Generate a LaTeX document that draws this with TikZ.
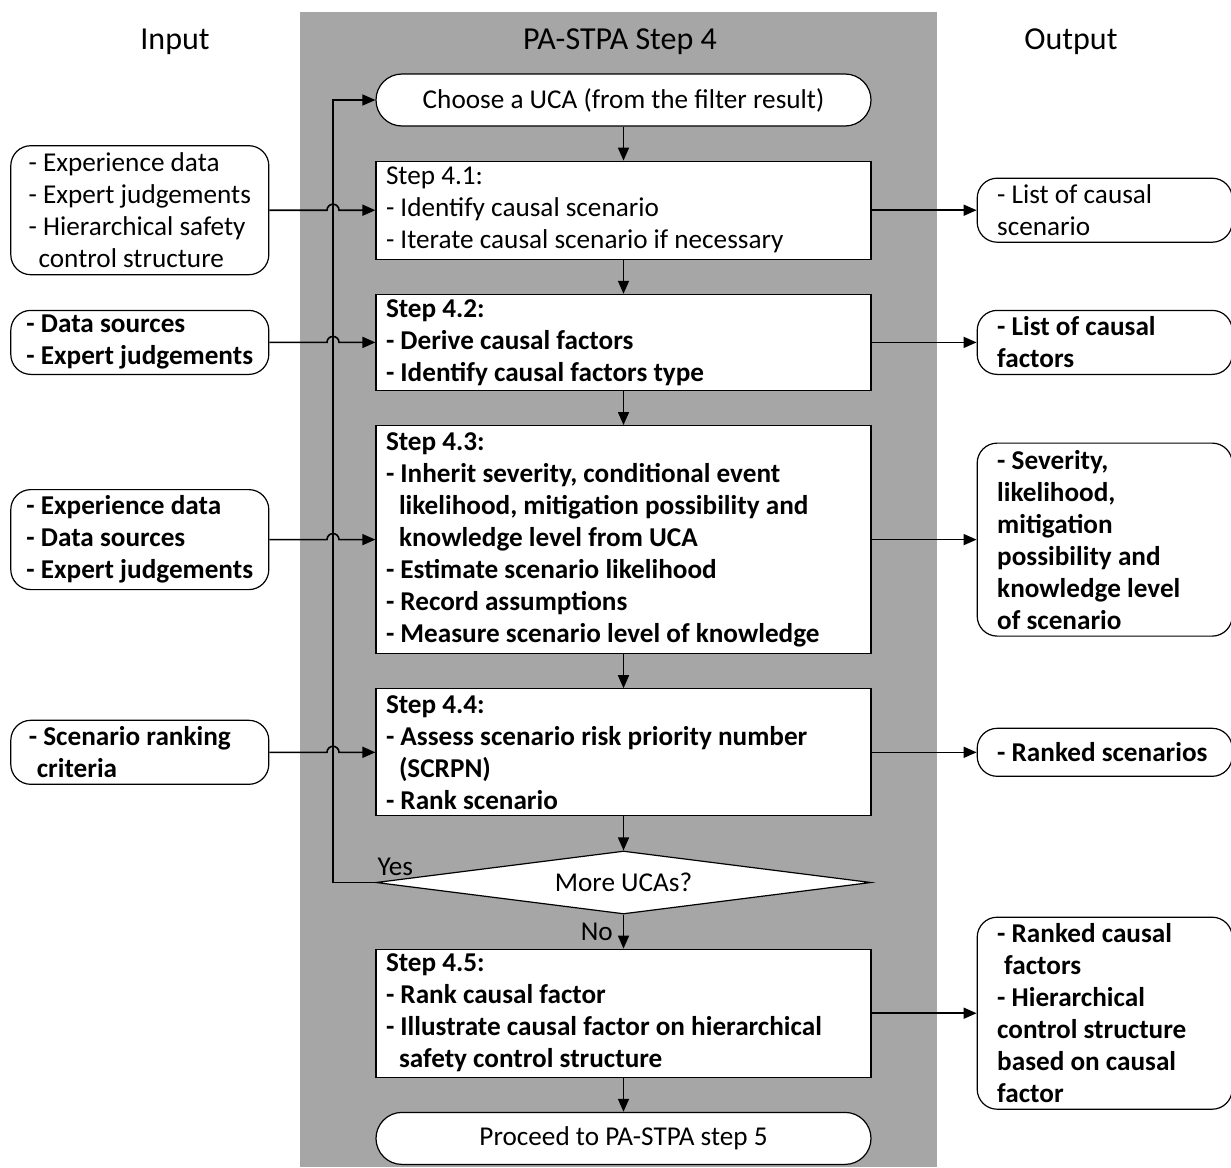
\documentclass[tikz,border=0pt]{standalone}
\usepackage{fontspec}
\setmainfont{Carlito}
\usetikzlibrary{arrows.meta,positioning,shapes.geometric,calc,backgrounds}
\definecolor{BandGray}{HTML}{A6A6A6}
\newcommand{\contline}{\hspace*{13pt}}
\tikzset{
  basefont/.style={font=\fontsize{27.2}{32}\selectfont},
  boldfont/.style={font=\fontsize{27.2}{32}\selectfont\bfseries},
  terminal/.style={draw,fill=white,line width=1.2pt,rounded corners=26pt,minimum width=495pt,minimum height=52pt,basefont},
  stepbox/.style={draw,fill=white,line width=1.2pt,text width=475pt,inner xsep=10pt,inner ysep=2pt,align=flush left,basefont},
  decision/.style={draw,fill=white,line width=1.2pt,diamond,aspect=8,minimum width=495pt,minimum height=63pt,inner sep=0pt,basefont},
  inputbox/.style={draw,fill=white,line width=1.2pt,rounded corners=20pt,minimum width=258pt,align=flush left,basefont},
  outputbox/.style={draw,fill=white,line width=1.2pt,rounded corners=20pt,text width=215pt,inner xsep=20pt,align=flush left,basefont},
  header/.style={font=\fontsize{32}{38}\selectfont},
  flow/.style={-{Triangle[length=13pt,width=11pt]},line width=1.6pt},
  lbl/.style={basefont,inner sep=2pt}
}

\begin{document}
\begin{tikzpicture}[x=1pt,y=-1pt,node distance=34pt and 105pt]
\fill[BandGray] (300,12) rectangle (937,1167);
\useasboundingbox (0,0) rectangle (1231,1167);
\node[header] (hin) at (175,42) {Input};
\node[header] (hstep) at (620,42) {PA-STPA Step 4};
\node[header] (hout) at (1071,42) {Output};
\node[terminal] (choose) at (623.5,100) {Choose a UCA (from the filter result)};
\node[stepbox,minimum height=98pt,below=of choose] (s41) {Step 4.1:\\- Identify causal scenario\\- Iterate causal scenario if necessary};
\node[stepbox,boldfont,minimum height=96pt,below=of s41] (s42) {Step 4.2:\\- Derive causal factors\\- Identify causal factors type};
\node[stepbox,boldfont,minimum height=228pt,below=of s42] (s43) {Step 4.3:\\- Inherit severity, conditional event\\\contline likelihood, mitigation possibility and\\\contline knowledge level from UCA\\- Estimate scenario likelihood\\- Record assumptions\\- Measure scenario level of knowledge};
\node[stepbox,boldfont,minimum height=127pt,below=of s43] (s44) {Step 4.4:\\- Assess scenario risk priority number\\\contline (SCRPN)\\- Rank scenario};
\node[decision,below=of s44] (more) {More UCAs?};
\node[stepbox,boldfont,minimum height=128pt,below=of more] (s45) {Step 4.5:\\- Rank causal factor\\- Illustrate causal factor on hierarchical\\\contline safety control structure};
\node[terminal,below=of s45] (proceed) {Proceed to PA-STPA step 5};
\node[inputbox,minimum height=129pt,left=106pt of s41] (in1) {- Experience data\\- Expert judgements\\- Hierarchical safety\\\hspace*{10pt}control structure};
\node[inputbox,boldfont,minimum height=64pt,left=106pt of s42] (in2) {- Data sources\\- Expert judgements};
\node[inputbox,boldfont,minimum height=100pt,left=106pt of s43] (in3) {- Experience data\\- Data sources\\- Expert judgements};
\node[inputbox,boldfont,minimum height=64pt,left=106pt of s44] (in4) {- Scenario ranking\hspace*{20pt}\\\hspace*{8pt}criteria};
\node[outputbox,minimum height=64pt,right=of s41] (out1) {- List of causal\\scenario};
\node[outputbox,boldfont,minimum height=64pt,right=of s42] (out2) {- List of causal\\factors};
\node[outputbox,boldfont,minimum height=193pt,right=of s43] (out3) {- Severity,\\likelihood,\\mitigation\\possibility and\\knowledge level\\of scenario};
\node[outputbox,boldfont,minimum height=48pt,right=of s44] (out4) {- Ranked scenarios};
\node[outputbox,boldfont,minimum height=192pt,right=of s45] (out5) {- Ranked causal\\\hspace*{7pt}factors\\- Hierarchical\\control structure\\based on causal\\factor};
\coordinate (fb) at (333,0);
\draw[flow] (choose) -- (s41);
\draw[flow] (s41) -- (s42);
\draw[flow] (s42) -- (s43);
\draw[flow] (s43) -- (s44);
\draw[flow] (s44) -- (more);
\draw[flow] (more) -- node[lbl,left=8pt] (no) {No} (s45);
\draw[flow] (s45) -- (proceed);
\draw[flow] (more.west) -- (fb|-more.west) |- (choose.west);
\node[lbl,anchor=south west,yshift=5pt] (yes) at (more.west) {Yes};
\foreach \i/\s in {in1/s41,in2/s42,in3/s43,in4/s44}
  \draw[flow] (\i.east) -- ($(fb|-\i.east)+(-6pt,0)$) arc[start angle=180,end angle=0,radius=6pt] -- (\s.west|-\i.east);
\foreach \s/\o in {s41/out1,s42/out2,s43/out3,s44/out4,s45/out5}
  \draw[flow] (\s.east|-\o.west) -- (\o.west);
\end{tikzpicture}
\end{document}
